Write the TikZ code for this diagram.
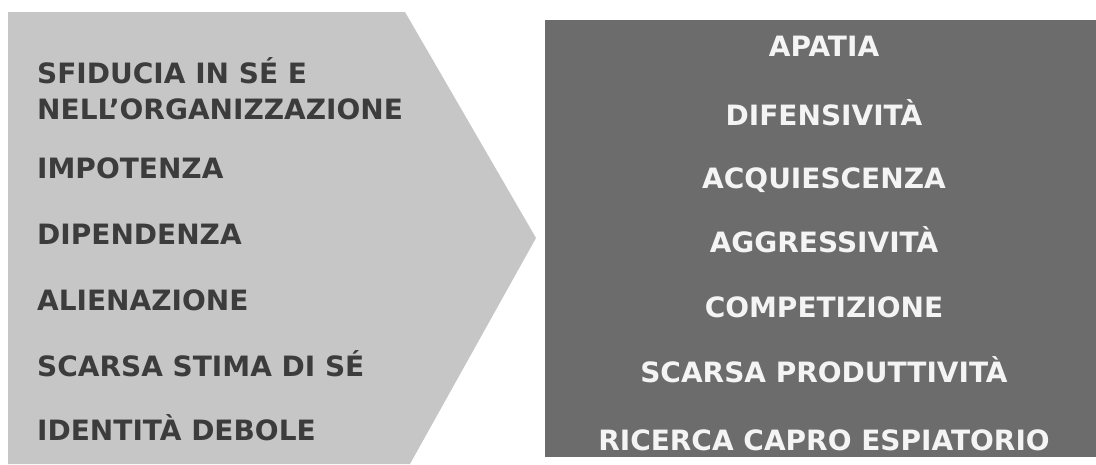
\documentclass[tikz,border=0pt]{standalone}
\usepackage{fontspec}
\setmainfont{DejaVu Sans}
\usetikzlibrary{positioning}
\definecolor{chevgray}{HTML}{C6C6C6}
\definecolor{boxgray}{HTML}{6C6C6C}
\definecolor{inkgray}{HTML}{3C3C3C}
\definecolor{chalk}{HTML}{F4F4F4}
\tikzset{
  lefttext/.style={anchor=base west, inner sep=0pt, text=inkgray,
    font=\bfseries\fontsize{28}{34}\selectfont},
  righttext/.style={anchor=base, inner sep=0pt, text=chalk,
    font=\bfseries\fontsize{28}{34}\selectfont}
}
\begin{document}
\begin{tikzpicture}[x=1pt, y=-1pt]
    \def\lx{37}
    \def\rx{824}
    \useasboundingbox (0,0) rectangle (1096,464);
    % shapes
    \fill[chevgray] (8,12) -- (405,12) -- (536,238) -- (410,464) -- (8,464) -- cycle;
    \fill[boxgray] (545,20) rectangle (1096,457);
    % left column
    \node(s1) [lefttext] at (\lx,83) {SFIDUCIA IN SÉ E};
    \node(s2) [lefttext] at (\lx,119) {NELL’ORGANIZZAZIONE};
    \node(s3) [lefttext] at (\lx,178) {IMPOTENZA};
    \node(s4) [lefttext] at (\lx,244) {DIPENDENZA};
    \node(s5) [lefttext] at (\lx,310) {ALIENAZIONE};
    \node(s6) [lefttext] at (\lx,376) {SCARSA STIMA DI SÉ};
    \node(s7) [lefttext] at (\lx,440) {IDENTITÀ DEBOLE};
    % right column
    \node(r1) [righttext] at (\rx,56) {APATIA};
    \node(r2) [righttext] at (\rx,125) {DIFENSIVITÀ};
    \node(r3) [righttext] at (\rx,188) {ACQUIESCENZA};
    \node(r4) [righttext] at (\rx,252) {AGGRESSIVITÀ};
    \node(r5) [righttext] at (\rx,317) {COMPETIZIONE};
    \node(r6) [righttext] at (\rx,382) {SCARSA PRODUTTIVITÀ};
    \node(r7) [righttext] at (\rx,450) {RICERCA CAPRO ESPIATORIO};
\end{tikzpicture}
\end{document}
